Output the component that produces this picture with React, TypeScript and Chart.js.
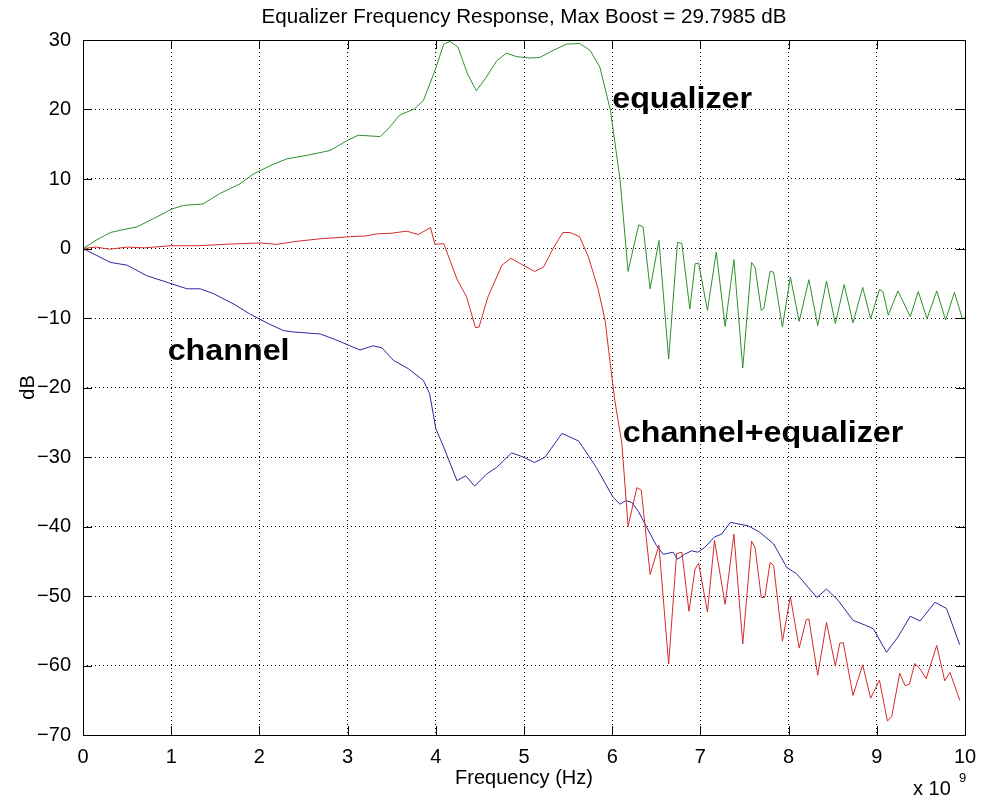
import React, { useEffect, useRef } from "react";
import { Chart, registerables } from "chart.js";

Chart.register(...registerables);

// Equalizer response (GHz, dB)
const eqFreq = [0, 0.15, 0.31, 0.45, 0.61, 0.8, 1.01, 1.14, 1.36, 1.55, 1.78, 1.93, 2.12, 2.31, 2.54, 2.8, 2.99, 3.12, 3.37, 3.48, 3.59, 3.76, 3.86, 3.99, 4.09, 4.16, 4.25, 4.36, 4.46, 4.57, 4.69, 4.8, 4.92, 5.07, 5.18, 5.33, 5.48, 5.63, 5.75, 5.86, 5.98, 6.09, 6.18, 6.3, 6.35, 6.43, 6.53, 6.64, 6.74, 6.79, 6.88, 6.94, 6.98, 7.08, 7.18, 7.28, 7.38, 7.48, 7.58, 7.62, 7.69, 7.72, 7.79, 7.83, 7.93, 8.02, 8.12, 8.23, 8.33, 8.43, 8.53, 8.63, 8.73, 8.84, 8.93, 9.03, 9.07, 9.13, 9.24, 9.38, 9.47, 9.57, 9.68, 9.78, 9.88, 9.97, 10.0];
const eqDb = [0, 1.2, 2.3, 2.7, 3.1, 4.3, 5.7, 6.2, 6.4, 7.9, 9.3, 10.7, 11.9, 12.9, 13.4, 14.1, 15.5, 16.3, 16.1, 17.5, 19.2, 20.1, 21.3, 25.6, 29.4, 29.8, 29.0, 25.1, 22.7, 24.6, 27.0, 28.1, 27.6, 27.4, 27.5, 28.5, 29.4, 29.5, 28.5, 26.1, 19.9, 9.8, -3.3, 3.4, 3.1, -5.8, 1.15, -15.9, 0.9, 0.7, -8.7, -2.2, -2.1, -8.9, -0.5, -11.2, -1.6, -17.2, -2.0, -2.7, -8.9, -8.6, -3.3, -3.4, -11.3, -4.1, -10.5, -4.5, -11.1, -4.7, -10.8, -5.2, -10.7, -5.6, -10.1, -5.9, -6.2, -9.6, -6.1, -9.8, -6.2, -10.1, -6.1, -10.3, -6.3, -10.1, -10.0];

// Channel response
const chFreq = [0, 0.31, 0.5, 0.72, 1.01, 1.18, 1.33, 1.48, 1.71, 1.89, 2.1, 2.27, 2.38, 2.69, 2.84, 3.14, 3.29, 3.39, 3.52, 3.69, 3.86, 3.93, 4.0, 4.09, 4.24, 4.34, 4.44, 4.58, 4.69, 4.86, 4.99, 5.12, 5.24, 5.43, 5.62, 5.82, 6.01, 6.09, 6.15, 6.22, 6.3, 6.39, 6.5, 6.58, 6.69, 6.74, 6.82, 6.9, 6.97, 7.05, 7.16, 7.24, 7.34, 7.54, 7.67, 7.83, 7.98, 8.09, 8.32, 8.43, 8.56, 8.73, 8.87, 8.96, 9.11, 9.24, 9.38, 9.49, 9.66, 9.79, 9.94];
const chDb = [0, -2.0, -2.4, -3.9, -5.1, -5.8, -5.8, -6.5, -8.0, -9.4, -10.8, -11.8, -12.0, -12.3, -13.0, -14.6, -14.0, -14.3, -16.1, -17.3, -19.0, -20.9, -25.9, -28.6, -33.4, -32.7, -34.2, -32.4, -31.5, -29.4, -30.0, -30.8, -30.0, -26.6, -27.7, -31.5, -35.8, -36.8, -36.3, -36.5, -37.9, -40.1, -42.7, -44.0, -43.7, -44.7, -44.0, -43.5, -43.7, -43.0, -41.5, -41.1, -39.4, -39.9, -40.8, -42.5, -45.9, -46.8, -50.2, -49.0, -50.6, -53.5, -54.2, -54.7, -58.1, -55.9, -52.9, -53.6, -50.9, -51.8, -57.0];

// Channel + equalizer response
const ceFreq = [0, 0.15, 0.3, 0.5, 0.7, 1.0, 1.3, 1.6, 2.0, 2.2, 2.4, 2.69, 3.03, 3.2, 3.33, 3.5, 3.67, 3.8, 3.94, 3.99, 4.09, 4.24, 4.35, 4.45, 4.49, 4.59, 4.75, 4.85, 4.99, 5.12, 5.22, 5.33, 5.44, 5.52, 5.63, 5.73, 5.84, 5.92, 5.96, 6.03, 6.11, 6.18, 6.28, 6.33, 6.43, 6.53, 6.64, 6.73, 6.79, 6.87, 6.94, 6.98, 7.08, 7.16, 7.28, 7.38, 7.48, 7.58, 7.62, 7.69, 7.73, 7.79, 7.83, 7.93, 8.02, 8.12, 8.2, 8.23, 8.33, 8.43, 8.53, 8.58, 8.62, 8.73, 8.84, 8.93, 9.03, 9.12, 9.17, 9.26, 9.32, 9.37, 9.43, 9.49, 9.56, 9.68, 9.77, 9.83, 9.94];
const ceDb = [0, 0.2, -0.1, 0.2, 0.1, 0.4, 0.4, 0.6, 0.8, 0.6, 1.0, 1.4, 1.7, 1.8, 2.1, 2.2, 2.5, 2.0, 3.0, 0.6, 0.7, -4.4, -7.0, -11.4, -11.3, -7.0, -2.4, -1.4, -2.4, -3.3, -2.7, 0, 2.3, 2.3, 1.7, -1.2, -5.8, -10.4, -14.7, -21.9, -28.1, -40.0, -34.4, -34.8, -46.9, -42.7, -59.8, -43.9, -43.7, -52.2, -46.1, -45.3, -52.3, -42.0, -51.2, -41.1, -56.9, -42.1, -43.0, -50.2, -50.2, -45.2, -45.6, -56.5, -50.1, -57.5, -53.4, -53.3, -61.4, -53.8, -60.1, -56.8, -56.7, -64.3, -59.9, -64.7, -62.1, -68.0, -67.3, -61.1, -62.9, -62.7, -59.7, -60.5, -61.9, -57.1, -62.2, -61.0, -65.0];

const titleText = "Equalizer Frequency Response, Max Boost = 29.7985 dB";
const xTitle = "Frequency (Hz)";
const yTitle = "dB";
const annotations = [
  { text: "equalizer", x: 6.0, y: 20.2 },
  { text: "channel", x: 0.96, y: -16.1 },
  { text: "channel+equalizer", x: 6.12, y: -27.9 },
];

const pts = (xs: number[], ys: number[]) => xs.map((x, i) => ({ x, y: ys[i] }));

const FONT = '"Liberation Sans", Arial, Helvetica, sans-serif';

const decorPlugin = {
  id: "decor",
  afterDraw(chart: any) {
    const { ctx, chartArea: a, scales } = chart;
    const xs = scales.x;
    const ys = scales.y;
    ctx.save();
    // box
    ctx.strokeStyle = "#000";
    ctx.lineWidth = 1;
    ctx.setLineDash([]);
    ctx.strokeRect(Math.round(a.left) + 0.5, Math.round(a.top) + 0.5, Math.round(a.right - a.left), Math.round(a.bottom - a.top));
    // inside ticks
    const tl = 9;
    ctx.beginPath();
    xs.ticks.forEach((t: any) => {
      const px = Math.round(xs.getPixelForValue(t.value)) + 0.5;
      ctx.moveTo(px, a.bottom);
      ctx.lineTo(px, a.bottom - tl);
      ctx.moveTo(px, a.top);
      ctx.lineTo(px, a.top + tl);
    });
    ys.ticks.forEach((t: any) => {
      const py = Math.round(ys.getPixelForValue(t.value)) + 0.5;
      ctx.moveTo(a.left, py);
      ctx.lineTo(a.left + tl, py);
      ctx.moveTo(a.right, py);
      ctx.lineTo(a.right - tl, py);
    });
    ctx.stroke();

    ctx.fillStyle = "#000";
    // title
    ctx.font = `20.6px ${FONT}`;
    ctx.textAlign = "center";
    ctx.textBaseline = "alphabetic";
    ctx.fillText(titleText, (a.left + a.right) / 2, 23);
    // x title
    ctx.font = `20px ${FONT}`;
    ctx.fillText(xTitle, (a.left + a.right) / 2, 784);
    // y title
    ctx.save();
    ctx.translate(34, (a.top + a.bottom) / 2);
    ctx.rotate(-Math.PI / 2);
    ctx.fillText(yTitle, 0, 0);
    ctx.restore();
    // exponent
    ctx.textAlign = "left";
    ctx.font = `20px ${FONT}`;
    ctx.fillText("x 10", 913, 795);
    ctx.font = `13px ${FONT}`;
    ctx.fillText("9", 959, 782);
    // annotations
    ctx.font = `bold 30px ${FONT}`;
    annotations.forEach((an) => {
      ctx.save();
      ctx.translate(xs.getPixelForValue(an.x), ys.getPixelForValue(an.y));
      ctx.scale(1.075, 1);
      ctx.fillText(an.text, 0, 0);
      ctx.restore();
    });
    ctx.restore();
  },
};

export default function App() {
  const ref = useRef<HTMLCanvasElement | null>(null);
  useEffect(() => {
    document.body.style.margin = "0";
    const canvas = ref.current!;
    const chart = new Chart(canvas, {
      type: "line",
      data: {
        datasets: [
          { label: "equalizer", data: pts(eqFreq, eqDb), borderColor: "#2f8f2f", borderWidth: 1, pointRadius: 0, tension: 0, fill: false },
          { label: "channel+equalizer", data: pts(ceFreq, ceDb), borderColor: "#d42a2a", borderWidth: 1, pointRadius: 0, tension: 0, fill: false },
          { label: "channel", data: pts(chFreq, chDb), borderColor: "#2828a0", borderWidth: 1, pointRadius: 0, tension: 0, fill: false },
        ],
      },
      options: {
        animation: false,
        responsive: false,
        parsing: false as any,
        layout: { padding: { left: 0, top: 40, right: 16, bottom: 0 } },
        plugins: { legend: { display: false }, tooltip: { enabled: false }, title: { display: false } },
        scales: {
          x: {
            type: "linear",
            min: 0,
            max: 10,
            ticks: { stepSize: 1, color: "#000", font: { family: FONT, size: 20 }, padding: 10, maxRotation: 0 },
            grid: { color: "#000", lineWidth: 1, drawTicks: false },
            border: { display: false, dash: [1, 3] },
            afterFit: (s: any) => { s.height = 65; s.paddingLeft = 0; s.paddingRight = 0; },
          },
          y: {
            type: "linear",
            min: -70,
            max: 30,
            ticks: { stepSize: 10, color: "#000", font: { family: FONT, size: 20 }, padding: 12, callback: (v: any) => String(v).replace("-", "\u2212") },
            grid: { color: "#000", lineWidth: 1, drawTicks: false },
            border: { display: false, dash: [1, 3] },
            afterFit: (s: any) => { s.width = 83; s.paddingTop = 0; s.paddingBottom = 0; },
          },
        },
      },
      plugins: [decorPlugin],
    });
    return () => chart.destroy();
  }, []);
  return <canvas ref={ref} width={981} height={800} style={{ display: "block" }} />;
}
